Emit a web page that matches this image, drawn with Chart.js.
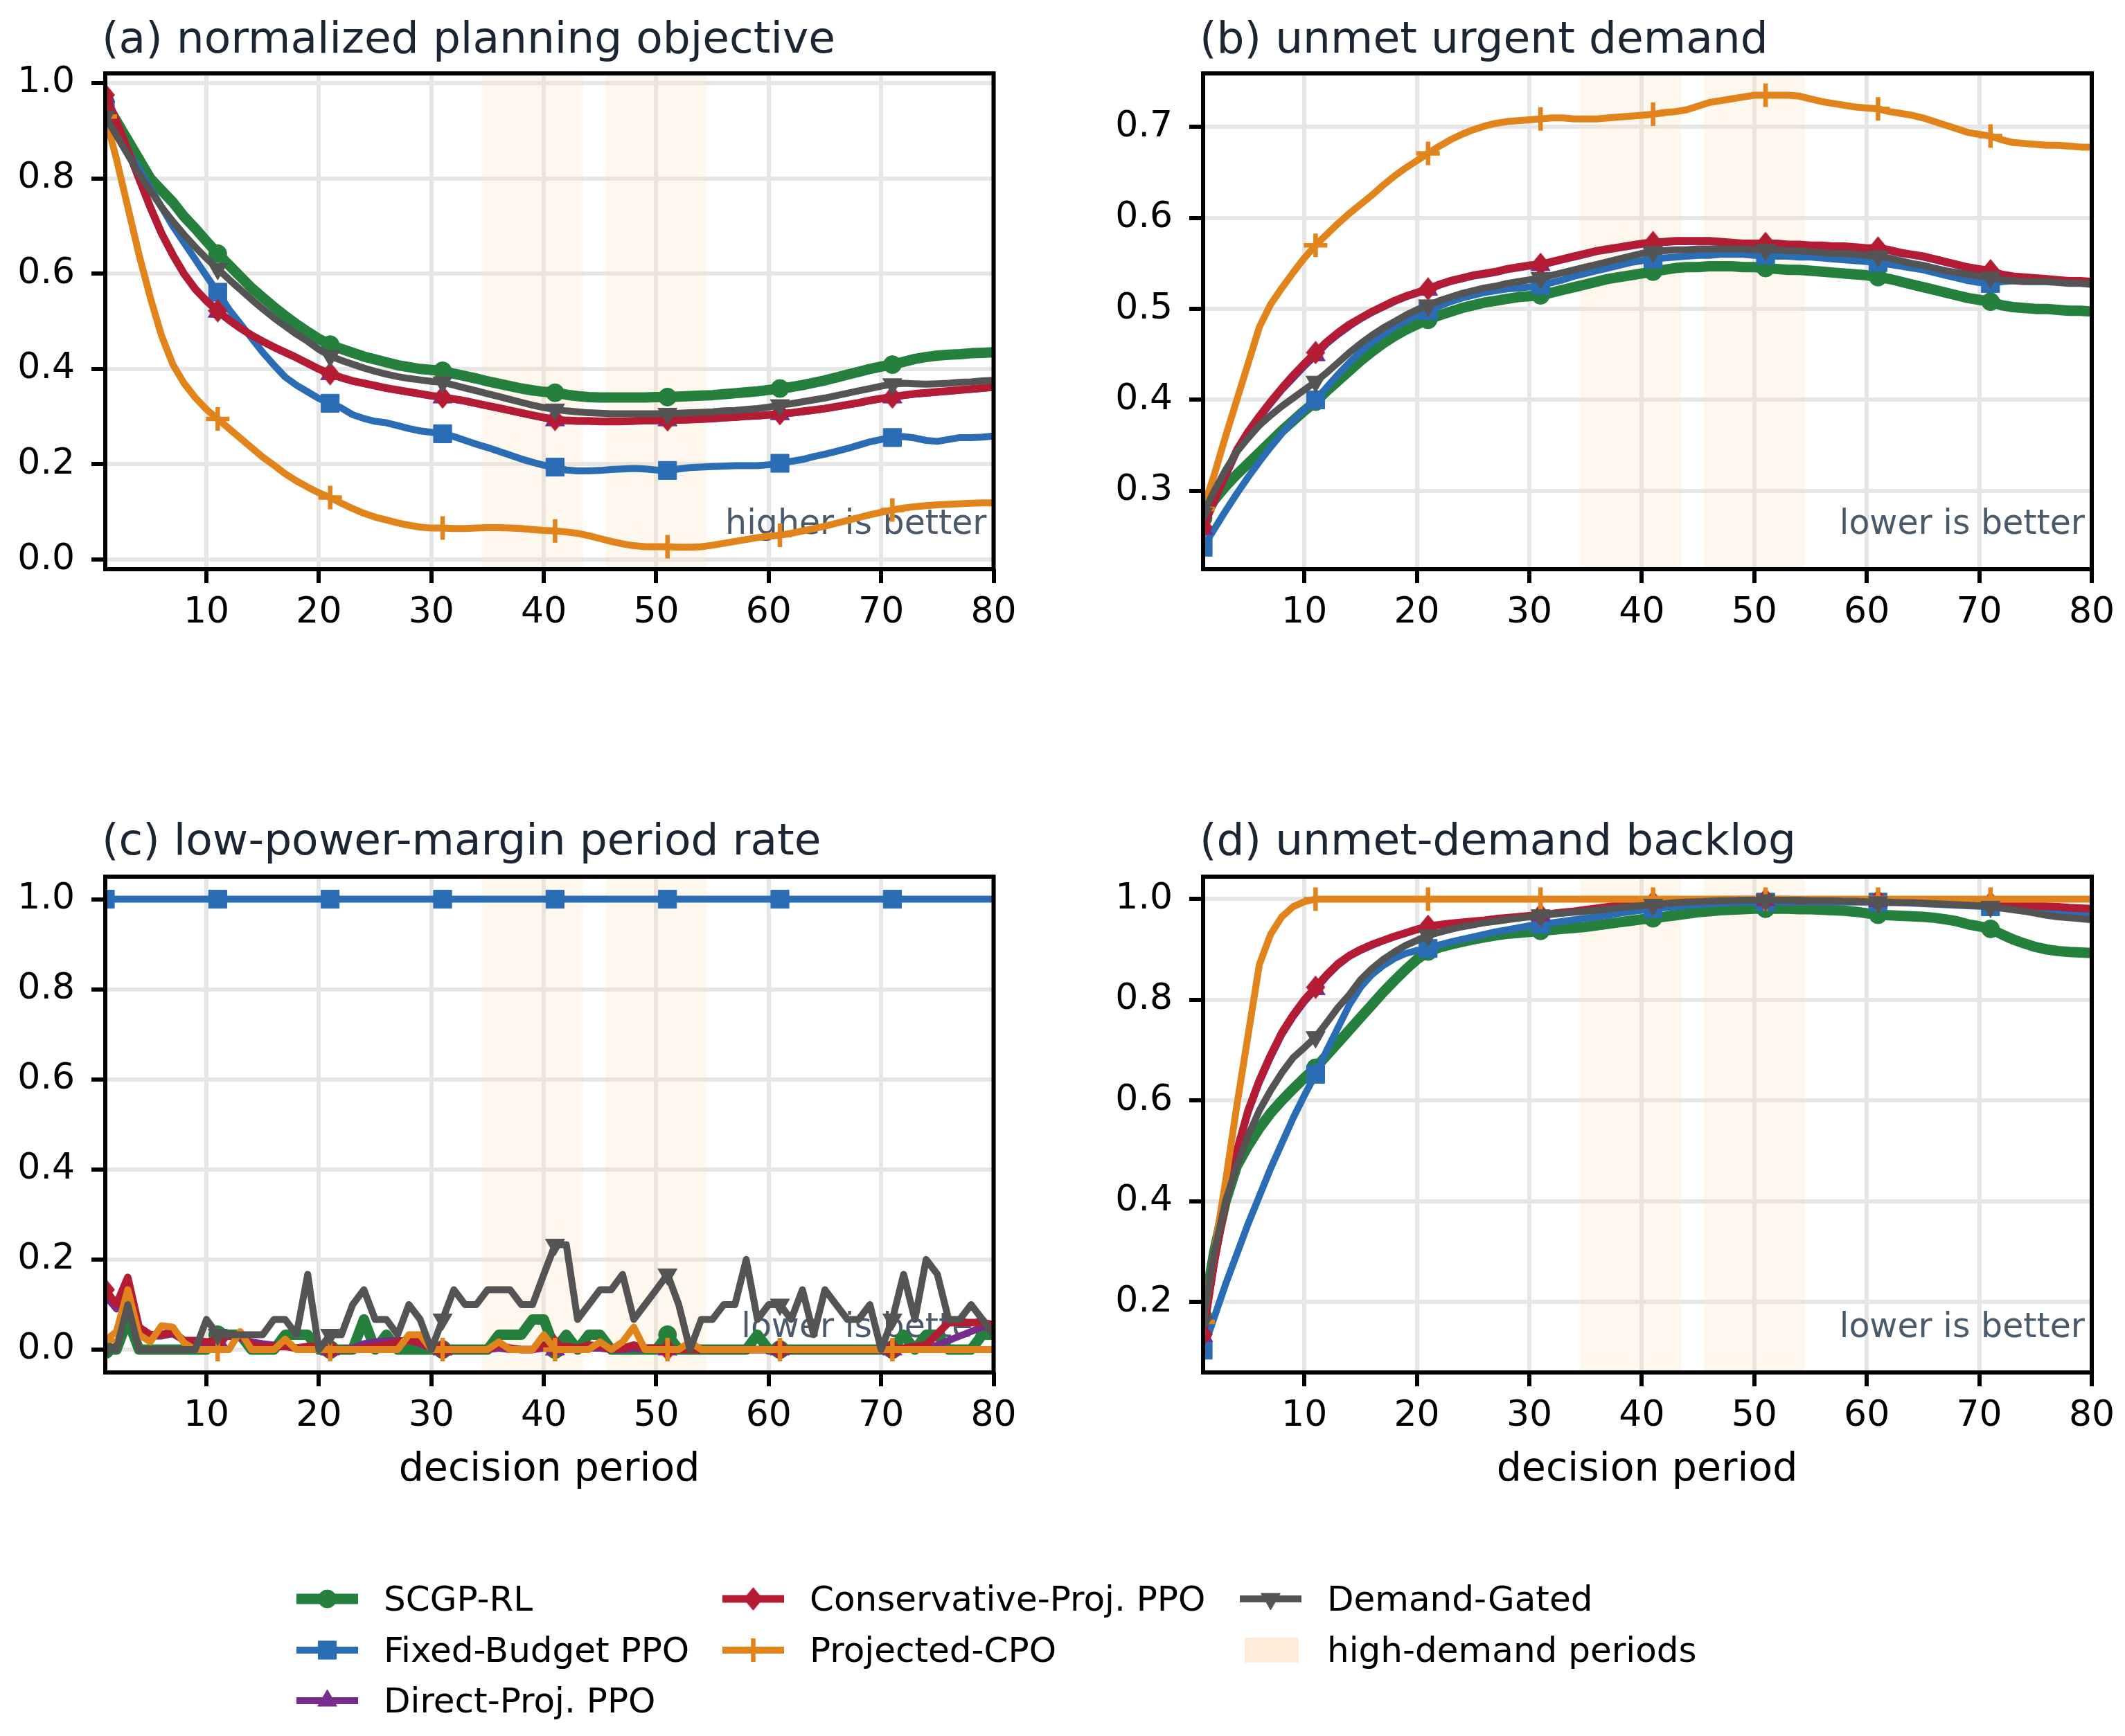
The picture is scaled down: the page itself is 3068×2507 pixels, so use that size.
<!DOCTYPE html>
<html>
<head>
<meta charset="utf-8">
<script src="https://cdn.jsdelivr.net/npm/chart.js@4.4.1/dist/chart.umd.min.js"></script>
<style>
  body { margin: 0; background: #fff; }
  #fig { position: relative; width: 3068px; height: 2507px; font-family: "DejaVu Sans"; overflow: hidden; }
  #fig canvas { position: absolute; }
  .ttl { position: absolute; font-size: 63px; line-height: 63px; color: #1c2533; white-space: nowrap; }
  .xlab { position: absolute; font-size: 57px; line-height: 57px; color: #000; white-space: nowrap; transform: translateX(-50%); }
  .leg { position: absolute; font-size: 50px; line-height: 60px; height: 60px; color: #000; white-space: nowrap; }
  .patch { position: absolute; background: #fcecd9; }
</style>
</head>
<body>
<div id="fig">
  <canvas id="pa" width="1530" height="1000" style="left:0px;top:0px;width:1530px;height:1000px"></canvas>
  <canvas id="pb" width="1528" height="1000" style="left:1540px;top:0px;width:1528px;height:1000px"></canvas>
  <canvas id="pc" width="1530" height="1000" style="left:0px;top:1160px;width:1530px;height:1000px"></canvas>
  <canvas id="pd" width="1528" height="1000" style="left:1540px;top:1160px;width:1528px;height:1000px"></canvas>
  <div class="ttl" style="left:147px;top:23px">(a) normalized planning objective</div>
  <div class="ttl" style="left:1732px;top:23px">(b) unmet urgent demand</div>
  <div class="ttl" style="left:147px;top:1181px">(c) low-power-margin period rate</div>
  <div class="ttl" style="left:1732px;top:1181px">(d) unmet-demand backlog</div>
  <div class="xlab" style="left:793px;top:2090px">decision period</div>
  <div class="xlab" style="left:2378px;top:2090px">decision period</div>
  <div id="legend"></div>
</div>
<script>
// x positions (decision periods) and tick labels
const periods = [1,2,3,4,5,6,7,8,9,10,11,12,13,14,15,16,17,18,19,20,
  21,22,23,24,25,26,27,28,29,30,31,32,33,34,35,36,37,38,39,40,
  41,42,43,44,45,46,47,48,49,50,51,52,53,54,55,56,57,58,59,60,
  61,62,63,64,65,66,67,68,69,70,71,72,73,74,75,76,77,78,79,80];
const xTicks = [10,20,30,40,50,60,70,80];
const yTicksA = [0.0,0.2,0.4,0.6,0.8,1.0];
const yTicksB = [0.3,0.4,0.5,0.6,0.7];
const yTicksC = [0.0,0.2,0.4,0.6,0.8,1.0];
const yTicksD = [0.2,0.4,0.6,0.8,1.0];
const highDemandStart = [34.5, 45.5];
const highDemandEnd = [43.5, 54.5];

const names = ["SCGP-RL","Fixed-Budget PPO","Direct-Proj. PPO","Conservative-Proj. PPO","Projected-CPO","Demand-Gated"];

// (a) normalized planning objective
const aSCGP = [0.960,0.920,0.880,0.840,0.800,0.775,0.750,0.720,0.695,0.668,
  0.642,0.618,0.594,0.570,0.550,0.530,0.511,0.494,0.478,0.463,
  0.451,0.442,0.434,0.426,0.420,0.414,0.408,0.404,0.400,0.398,
  0.396,0.390,0.385,0.380,0.374,0.369,0.364,0.359,0.355,0.352,
  0.350,0.346,0.343,0.341,0.340,0.340,0.340,0.340,0.340,0.341,
  0.341,0.342,0.343,0.344,0.345,0.347,0.349,0.351,0.353,0.356,
  0.359,0.362,0.366,0.371,0.376,0.382,0.388,0.394,0.400,0.405,
  0.409,0.415,0.421,0.425,0.428,0.430,0.431,0.433,0.434,0.435];
const aFixed = [0.940,0.900,0.860,0.820,0.780,0.740,0.700,0.665,0.630,0.595,
  0.561,0.525,0.495,0.465,0.435,0.408,0.383,0.366,0.352,0.338,
  0.328,0.318,0.304,0.296,0.290,0.287,0.281,0.275,0.270,0.267,
  0.264,0.258,0.250,0.242,0.235,0.227,0.219,0.211,0.204,0.198,
  0.194,0.188,0.186,0.186,0.187,0.189,0.190,0.191,0.190,0.188,
  0.187,0.190,0.193,0.194,0.195,0.196,0.197,0.197,0.197,0.199,
  0.202,0.206,0.210,0.216,0.221,0.227,0.233,0.240,0.247,0.252,
  0.256,0.258,0.255,0.250,0.248,0.252,0.256,0.256,0.257,0.259];
const aDirect = [0.972,0.918,0.858,0.798,0.738,0.684,0.639,0.599,0.567,0.542,
  0.520,0.502,0.485,0.470,0.457,0.445,0.434,0.423,0.411,0.399,
  0.389,0.381,0.374,0.369,0.364,0.359,0.355,0.351,0.347,0.343,
  0.340,0.336,0.332,0.327,0.322,0.317,0.312,0.307,0.302,0.297,
  0.292,0.291,0.290,0.290,0.289,0.289,0.289,0.290,0.291,0.291,
  0.292,0.292,0.293,0.294,0.295,0.297,0.298,0.300,0.301,0.303,
  0.305,0.307,0.310,0.313,0.316,0.320,0.324,0.328,0.333,0.337,
  0.340,0.344,0.347,0.349,0.351,0.353,0.355,0.357,0.359,0.361];
const aCons = [0.975,0.920,0.860,0.800,0.740,0.685,0.640,0.600,0.568,0.543,
  0.522,0.503,0.486,0.471,0.458,0.446,0.435,0.424,0.412,0.400,
  0.390,0.382,0.375,0.370,0.365,0.360,0.356,0.352,0.348,0.344,
  0.341,0.337,0.333,0.328,0.323,0.318,0.313,0.308,0.303,0.298,
  0.294,0.292,0.291,0.291,0.290,0.290,0.290,0.291,0.292,0.292,
  0.293,0.293,0.294,0.295,0.296,0.298,0.299,0.301,0.302,0.304,
  0.306,0.308,0.311,0.314,0.317,0.321,0.325,0.329,0.334,0.338,
  0.341,0.345,0.348,0.350,0.352,0.354,0.356,0.358,0.360,0.362];
const aProj = [0.930,0.840,0.740,0.640,0.550,0.470,0.410,0.370,0.340,0.315,
  0.295,0.275,0.255,0.235,0.215,0.198,0.180,0.165,0.152,0.140,
  0.130,0.118,0.107,0.097,0.089,0.083,0.077,0.072,0.068,0.066,
  0.066,0.065,0.065,0.066,0.067,0.067,0.066,0.065,0.063,0.061,
  0.060,0.058,0.055,0.050,0.044,0.038,0.033,0.029,0.027,0.027,
  0.027,0.026,0.026,0.027,0.030,0.034,0.038,0.042,0.046,0.049,
  0.051,0.055,0.060,0.065,0.070,0.076,0.082,0.088,0.094,0.099,
  0.104,0.108,0.111,0.113,0.115,0.116,0.117,0.118,0.119,0.119];
const aGated = [0.930,0.890,0.850,0.810,0.775,0.740,0.710,0.682,0.656,0.632,
  0.610,0.588,0.567,0.546,0.526,0.507,0.490,0.473,0.458,0.441,
  0.427,0.418,0.410,0.402,0.395,0.389,0.384,0.380,0.377,0.374,
  0.372,0.366,0.360,0.354,0.348,0.342,0.336,0.330,0.324,0.319,
  0.315,0.312,0.310,0.308,0.307,0.306,0.306,0.306,0.306,0.306,
  0.306,0.307,0.308,0.309,0.310,0.312,0.313,0.315,0.317,0.320,
  0.324,0.327,0.331,0.335,0.339,0.344,0.349,0.354,0.359,0.364,
  0.368,0.370,0.369,0.368,0.369,0.370,0.372,0.373,0.375,0.376];

// (b) unmet urgent demand
const bSCGP = [0.270,0.290,0.305,0.318,0.330,0.342,0.354,0.366,0.377,0.388,
  0.398,0.410,0.421,0.432,0.443,0.453,0.462,0.470,0.477,0.483,
  0.488,0.493,0.497,0.501,0.504,0.507,0.509,0.511,0.513,0.514,
  0.515,0.518,0.521,0.524,0.527,0.530,0.533,0.535,0.537,0.539,
  0.541,0.543,0.545,0.546,0.546,0.547,0.547,0.547,0.546,0.546,
  0.545,0.544,0.543,0.543,0.542,0.541,0.540,0.539,0.538,0.537,
  0.535,0.533,0.530,0.527,0.524,0.521,0.518,0.515,0.512,0.510,
  0.508,0.504,0.502,0.501,0.500,0.500,0.499,0.498,0.498,0.497];
const bFixed = [0.238,0.258,0.278,0.297,0.315,0.332,0.348,0.363,0.377,0.389,
  0.400,0.414,0.428,0.441,0.453,0.463,0.472,0.480,0.487,0.493,
  0.498,0.503,0.508,0.512,0.515,0.518,0.520,0.522,0.523,0.524,
  0.526,0.529,0.532,0.536,0.539,0.542,0.545,0.548,0.551,0.553,
  0.555,0.556,0.557,0.558,0.559,0.559,0.560,0.560,0.560,0.559,
  0.559,0.558,0.558,0.557,0.557,0.556,0.555,0.554,0.553,0.552,
  0.551,0.549,0.547,0.545,0.543,0.540,0.537,0.534,0.531,0.529,
  0.528,0.530,0.531,0.531,0.531,0.531,0.530,0.530,0.529,0.528];
const bDirect = [0.258,0.288,0.316,0.343,0.363,0.380,0.396,0.411,0.424,0.437,
  0.449,0.462,0.472,0.481,0.489,0.496,0.502,0.508,0.513,0.517,
  0.521,0.526,0.530,0.533,0.536,0.538,0.540,0.543,0.545,0.547,
  0.548,0.551,0.554,0.557,0.560,0.563,0.565,0.567,0.569,0.571,
  0.572,0.573,0.574,0.574,0.574,0.574,0.573,0.572,0.571,0.571,
  0.571,0.571,0.570,0.570,0.569,0.569,0.568,0.568,0.567,0.566,
  0.566,0.564,0.561,0.559,0.557,0.554,0.551,0.548,0.545,0.543,
  0.541,0.537,0.535,0.534,0.533,0.532,0.531,0.530,0.530,0.529];
const bCons = [0.260,0.290,0.318,0.345,0.365,0.382,0.398,0.413,0.427,0.440,
  0.452,0.464,0.474,0.483,0.490,0.497,0.503,0.509,0.514,0.518,
  0.522,0.527,0.531,0.534,0.537,0.539,0.541,0.544,0.546,0.548,
  0.549,0.552,0.555,0.558,0.561,0.564,0.566,0.568,0.570,0.572,
  0.573,0.574,0.575,0.575,0.575,0.575,0.574,0.573,0.572,0.572,
  0.572,0.572,0.571,0.571,0.570,0.570,0.569,0.569,0.568,0.567,
  0.567,0.565,0.562,0.560,0.558,0.555,0.552,0.549,0.546,0.544,
  0.542,0.538,0.536,0.535,0.534,0.533,0.532,0.531,0.531,0.530];
const bProj = [0.280,0.318,0.360,0.400,0.440,0.480,0.505,0.523,0.540,0.556,
  0.570,0.582,0.594,0.605,0.615,0.625,0.636,0.646,0.655,0.663,
  0.671,0.679,0.686,0.692,0.697,0.701,0.704,0.706,0.707,0.708,
  0.709,0.710,0.710,0.709,0.709,0.709,0.710,0.711,0.712,0.713,
  0.714,0.716,0.717,0.719,0.723,0.727,0.729,0.731,0.733,0.735,
  0.735,0.735,0.735,0.734,0.731,0.728,0.726,0.724,0.722,0.721,
  0.720,0.717,0.715,0.713,0.710,0.706,0.702,0.698,0.694,0.692,
  0.690,0.686,0.683,0.682,0.681,0.680,0.680,0.679,0.678,0.678];
const bGated = [0.275,0.300,0.323,0.343,0.358,0.372,0.383,0.393,0.402,0.411,
  0.420,0.430,0.441,0.452,0.462,0.471,0.479,0.486,0.493,0.499,
  0.504,0.509,0.513,0.517,0.520,0.523,0.525,0.528,0.530,0.532,
  0.534,0.537,0.540,0.543,0.546,0.549,0.552,0.555,0.558,0.561,
  0.563,0.564,0.565,0.565,0.566,0.566,0.566,0.566,0.566,0.565,
  0.565,0.565,0.564,0.564,0.563,0.562,0.561,0.561,0.560,0.559,
  0.558,0.556,0.553,0.550,0.548,0.545,0.542,0.540,0.538,0.536,
  0.535,0.532,0.531,0.530,0.530,0.530,0.529,0.528,0.528,0.527];

// (c) low-power-margin period rate
const cSCGP = [0.000,0.000,0.067,0.000,0.000,0.000,0.000,0.000,0.000,0.000,
  0.033,0.033,0.033,0.000,0.000,0.000,0.033,0.033,0.033,0.000,
  0.000,0.000,0.000,0.067,0.000,0.033,0.000,0.000,0.000,0.000,
  0.000,0.000,0.000,0.000,0.000,0.033,0.033,0.033,0.067,0.067,
  0.000,0.033,0.000,0.033,0.033,0.000,0.000,0.000,0.000,0.000,
  0.033,0.000,0.000,0.000,0.000,0.000,0.000,0.000,0.033,0.000,
  0.000,0.000,0.000,0.000,0.000,0.000,0.000,0.000,0.000,0.000,
  0.000,0.033,0.000,0.033,0.033,0.000,0.000,0.000,0.033,0.033];
const cFixed = [1,1,1,1,1,1,1,1,1,1, 1,1,1,1,1,1,1,1,1,1,
  1,1,1,1,1,1,1,1,1,1, 1,1,1,1,1,1,1,1,1,1,
  1,1,1,1,1,1,1,1,1,1, 1,1,1,1,1,1,1,1,1,1,
  1,1,1,1,1,1,1,1,1,1, 1,1,1,1,1,1,1,1,1,1];
const cDirect = [0.120,0.090,0.150,0.040,0.030,0.030,0.035,0.020,0.015,0.013,
  0.020,0.030,0.025,0.017,0.013,0.010,0.007,0.003,0.003,0.003,
  0.000,0.000,0.003,0.013,0.017,0.020,0.020,0.020,0.013,0.003,
  0.000,0.000,0.000,0.000,0.000,0.003,0.000,0.000,0.000,0.003,
  0.000,0.003,0.000,0.003,0.003,0.000,0.000,0.003,0.000,0.000,
  0.000,0.000,0.000,0.000,0.000,0.000,0.000,0.000,0.000,0.000,
  0.000,0.000,0.000,0.000,0.000,0.000,0.000,0.000,0.000,0.000,
  0.000,0.000,0.000,0.003,0.010,0.020,0.030,0.040,0.050,0.050];
const cCons = [0.133,0.100,0.160,0.050,0.033,0.033,0.040,0.020,0.020,0.017,
  0.020,0.033,0.033,0.010,0.007,0.007,0.007,0.003,0.007,0.007,
  0.000,0.000,0.000,0.003,0.007,0.010,0.017,0.020,0.017,0.003,
  0.000,0.000,0.000,0.000,0.000,0.010,0.003,0.000,0.000,0.010,
  0.007,0.007,0.003,0.010,0.007,0.003,0.003,0.010,0.003,0.003,
  0.000,0.000,0.000,0.000,0.000,0.000,0.000,0.000,0.000,0.000,
  0.000,0.000,0.000,0.000,0.000,0.000,0.000,0.000,0.000,0.000,
  0.000,0.003,0.007,0.010,0.035,0.060,0.060,0.060,0.060,0.055];
const cProj = [0.020,0.040,0.133,0.033,0.017,0.053,0.050,0.015,0.000,0.000,
  0.000,0.000,0.040,0.000,0.000,0.000,0.023,0.000,0.000,0.000,
  0.000,0.000,0.000,0.000,0.000,0.000,0.000,0.033,0.033,0.000,
  0.000,0.000,0.000,0.000,0.000,0.017,0.000,0.000,0.000,0.033,
  0.000,0.000,0.000,0.000,0.017,0.000,0.017,0.050,0.000,0.000,
  0.000,0.000,0.017,0.000,0.000,0.000,0.000,0.000,0.000,0.000,
  0.000,0.000,0.000,0.000,0.000,0.000,0.000,0.000,0.000,0.000,
  0.000,0.000,0.000,0.000,0.000,0.000,0.000,0.000,0.000,0.000];
const cGated = [0.000,0.000,0.100,0.000,0.000,0.000,0.000,0.000,0.000,0.067,
  0.033,0.033,0.033,0.033,0.033,0.067,0.067,0.033,0.167,0.000,
  0.033,0.033,0.100,0.133,0.067,0.067,0.033,0.100,0.067,0.000,
  0.067,0.133,0.100,0.100,0.133,0.133,0.133,0.100,0.100,0.167,
  0.233,0.233,0.067,0.100,0.133,0.133,0.167,0.067,0.100,0.133,
  0.167,0.100,0.000,0.067,0.067,0.100,0.100,0.200,0.067,0.100,
  0.100,0.067,0.133,0.033,0.133,0.100,0.067,0.067,0.100,0.000,
  0.067,0.167,0.067,0.200,0.167,0.067,0.067,0.100,0.067,0.033];

// (d) unmet-demand backlog
const dSCGP = [0.170,0.300,0.400,0.470,0.510,0.545,0.575,0.600,0.623,0.645,
  0.665,0.690,0.715,0.740,0.765,0.790,0.815,0.838,0.860,0.880,
  0.896,0.904,0.910,0.915,0.920,0.924,0.928,0.931,0.933,0.935,
  0.937,0.939,0.941,0.943,0.945,0.948,0.951,0.954,0.957,0.960,
  0.962,0.965,0.968,0.971,0.974,0.976,0.978,0.979,0.980,0.981,
  0.981,0.981,0.981,0.980,0.980,0.979,0.978,0.977,0.975,0.972,
  0.969,0.968,0.967,0.966,0.965,0.963,0.960,0.956,0.950,0.946,
  0.941,0.930,0.920,0.912,0.905,0.900,0.897,0.895,0.894,0.893];
const dFixed = [0.104,0.170,0.235,0.295,0.355,0.410,0.465,0.515,0.565,0.610,
  0.652,0.700,0.745,0.790,0.825,0.850,0.868,0.882,0.892,0.898,
  0.902,0.909,0.915,0.920,0.925,0.930,0.935,0.939,0.943,0.947,
  0.950,0.953,0.956,0.959,0.962,0.965,0.968,0.972,0.975,0.978,
  0.981,0.983,0.985,0.987,0.989,0.991,0.992,0.993,0.994,0.994,
  0.994,0.994,0.994,0.994,0.994,0.994,0.994,0.994,0.994,0.994,
  0.994,0.993,0.993,0.992,0.991,0.990,0.989,0.988,0.987,0.986,
  0.985,0.983,0.981,0.979,0.977,0.975,0.973,0.971,0.970,0.969];
const dDirect = [0.132,0.276,0.396,0.496,0.576,0.636,0.686,0.731,0.766,0.796,
  0.821,0.847,0.869,0.886,0.898,0.908,0.917,0.925,0.932,0.939,
  0.945,0.948,0.951,0.953,0.955,0.957,0.960,0.962,0.964,0.966,
  0.968,0.970,0.973,0.975,0.978,0.981,0.984,0.987,0.989,0.991,
  0.993,0.994,0.995,0.996,0.997,0.997,0.998,0.998,0.998,0.998,
  0.998,0.998,0.998,0.997,0.997,0.997,0.997,0.997,0.996,0.996,
  0.996,0.995,0.995,0.995,0.994,0.994,0.993,0.993,0.992,0.992,
  0.992,0.990,0.989,0.988,0.986,0.985,0.984,0.982,0.981,0.980];
const dCons = [0.135,0.280,0.400,0.500,0.580,0.640,0.690,0.735,0.770,0.800,
  0.825,0.850,0.872,0.888,0.900,0.910,0.918,0.926,0.933,0.940,
  0.946,0.949,0.952,0.954,0.956,0.958,0.961,0.963,0.965,0.967,
  0.969,0.971,0.974,0.976,0.979,0.982,0.985,0.988,0.990,0.992,
  0.994,0.995,0.996,0.997,0.998,0.998,0.999,0.999,0.999,0.999,
  0.999,0.999,0.999,0.998,0.998,0.998,0.998,0.998,0.997,0.997,
  0.997,0.996,0.996,0.996,0.995,0.995,0.994,0.994,0.993,0.993,
  0.993,0.991,0.990,0.989,0.987,0.986,0.985,0.983,0.982,0.981];
const dProj = [0.160,0.300,0.440,0.590,0.730,0.870,0.930,0.965,0.985,0.995,
  1.000,1.000,1.000,1.000,1.000,1.000,1.000,1.000,1.000,1.000,
  1.000,1.000,1.000,1.000,1.000,1.000,1.000,1.000,1.000,1.000,
  1.000,1.000,1.000,1.000,1.000,1.000,1.000,1.000,1.000,1.000,
  1.000,1.000,1.000,1.000,1.000,1.000,1.000,1.000,1.000,1.000,
  1.000,1.000,1.000,1.000,1.000,1.000,1.000,1.000,1.000,1.000,
  1.000,1.000,1.000,1.000,1.000,1.000,1.000,1.000,1.000,1.000,
  1.000,1.000,1.000,1.000,1.000,1.000,1.000,1.000,1.000,1.000];
const dGated = [0.160,0.300,0.400,0.470,0.530,0.580,0.620,0.655,0.685,0.705,
  0.726,0.755,0.785,0.810,0.840,0.862,0.880,0.895,0.908,0.918,
  0.928,0.934,0.940,0.945,0.949,0.953,0.956,0.959,0.962,0.965,
  0.968,0.970,0.972,0.974,0.976,0.978,0.980,0.983,0.985,0.987,
  0.989,0.991,0.993,0.994,0.995,0.996,0.997,0.997,0.998,0.998,
  0.998,0.998,0.998,0.998,0.997,0.997,0.997,0.996,0.996,0.995,
  0.994,0.994,0.993,0.993,0.992,0.991,0.990,0.989,0.988,0.987,
  0.985,0.982,0.979,0.976,0.972,0.968,0.965,0.963,0.961,0.959];

// styling
const colors = ["#24803c", "#2b6db4", "#782d8c", "#b41c33", "#e2841c", "#545454"];
const widths = [15, 10, 10, 11, 10, 10];
const rotations = [0, 0, 0, 0, 0, 180];
const radii = [13, 18.5, 16, 16, 17, 16];
const shadeColor = "rgba(250, 222, 185, 0.24)";
const noteColor = "#4a5a6b";
const font = "DejaVu Sans";

// thin diamond marker (taller than wide)
const thinDiamond = document.createElement("canvas");
thinDiamond.width = 28; thinDiamond.height = 34;
(function () {
  const g = thinDiamond.getContext("2d");
  g.fillStyle = colors[3];
  g.beginPath(); g.moveTo(14, 0); g.lineTo(28, 17); g.lineTo(14, 34); g.lineTo(0, 17); g.closePath(); g.fill();
})();
const markers = ["circle", "rect", "triangle", thinDiamond, "cross", "triangle"];
const markerBorder = [1, 1, 1, 1, 6.5, 1];

Chart.defaults.font.family = font;

const panelFrame = {
  id: "panelFrame",
  beforeDatasetsDraw(chart) {
    const { ctx, chartArea: a, scales: { x } } = chart;
    ctx.save();
    ctx.fillStyle = shadeColor;
    highDemandStart.forEach((s, i) => {
      const x0 = x.getPixelForValue(s), x1 = x.getPixelForValue(highDemandEnd[i]);
      ctx.fillRect(x0, a.top, x1 - x0, a.bottom - a.top);
    });
    ctx.font = "49px '" + font + "'";
    ctx.fillStyle = noteColor;
    ctx.textAlign = "right";
    ctx.textBaseline = "alphabetic";
    ctx.fillText(chart.options.note, a.right - 10, a.bottom - 51);
    ctx.restore();
  },
  afterDatasetsDraw(chart) {
    const { ctx, chartArea: a } = chart;
    ctx.save();
    ctx.strokeStyle = "#000";
    ctx.lineWidth = 6;
    ctx.strokeRect(a.left, a.top, a.right - a.left, a.bottom - a.top);
    ctx.restore();
  }
};

function makePanel(id, series, yMin, yMax, yTicks, note, yWidth, rightPad) {
  new Chart(document.getElementById(id), {
    type: "line",
    data: {
      datasets: series.map((vals, i) => ({
        label: names[i],
        data: vals.map((v, k) => ({ x: periods[k], y: v })),
        borderColor: colors[i],
        backgroundColor: colors[i],
        borderWidth: widths[i],
        borderJoinStyle: "round",
        pointStyle: markers[i],
        rotation: rotations[i],
        pointRadius: (c) => c.dataIndex % 10 === 0 ? radii[i] : 0,
        pointHoverRadius: (c) => c.dataIndex % 10 === 0 ? radii[i] : 0,
        pointBorderWidth: markerBorder[i],
        pointBorderColor: colors[i],
        pointBackgroundColor: colors[i],
        tension: 0,
        fill: false,
        clip: 0,
        order: 5 - i
      }))
    },
    options: {
      responsive: false,
      animation: false,
      devicePixelRatio: 1,
      events: [],
      note: note,
      layout: { padding: { left: 0, top: 106, right: rightPad, bottom: 0 } },
      plugins: { legend: { display: false }, tooltip: { enabled: false } },
      scales: {
        x: {
          type: "linear", min: 1, max: 80,
          afterBuildTicks: (s) => { s.ticks = xTicks.map((v) => ({ value: v })); },
          afterFit: (s) => { s.height = 178; },
          border: { display: false },
          grid: { color: "#e6e6e6", lineWidth: 6, drawTicks: true, tickLength: 20, tickWidth: 6, tickColor: "#000" },
          ticks: { color: "#000", font: { size: 52 }, padding: 12, maxRotation: 0, autoSkip: false, callback: (v) => String(v) }
        },
        y: {
          type: "linear", min: yMin, max: yMax,
          afterBuildTicks: (s) => { s.ticks = yTicks.map((v) => ({ value: v })); },
          afterFit: (s) => { s.width = yWidth; },
          border: { display: false },
          grid: { color: "#e6e6e6", lineWidth: 6, drawTicks: true, tickLength: 20, tickWidth: 6, tickColor: "#000" },
          ticks: { color: "#000", font: { size: 52 }, padding: 24, autoSkip: false, callback: (v) => v.toFixed(1) }
        }
      }
    },
    plugins: [panelFrame]
  });
}

makePanel("pa", [aSCGP, aFixed, aDirect, aCons, aProj, aGated], -0.0203, 1.0203, yTicksA, "higher is better", 152, 95.5);
makePanel("pb", [bSCGP, bFixed, bDirect, bCons, bProj, bGated], 0.2138, 0.759, yTicksB, "lower is better", 197, 48);
makePanel("pc", [cSCGP, cFixed, cDirect, cCons, cProj, cGated], -0.0508, 1.05, yTicksC, "lower is better", 152, 95.5);
makePanel("pd", [dSCGP, dFixed, dDirect, dCons, dProj, dGated], 0.0597, 1.0447, yTicksD, "lower is better", 197, 48);

// legend: three columns, filled column by column
const legCols = [428, 1043, 1790];
const legRows = [2309, 2383, 2456];
const legSlots = [[0, 0], [0, 1], [0, 2], [1, 0], [1, 1], [2, 0]];
const legend = document.getElementById("legend");
const fig = document.getElementById("fig");

names.forEach((name, i) => {
  const [c, r] = legSlots[i];
  const cv = document.createElement("canvas");
  cv.width = 119; cv.height = 60;
  cv.style.left = (legCols[c] - 15) + "px";
  cv.style.top = (legRows[r] - 30) + "px";
  cv.style.width = "119px"; cv.style.height = "60px";
  fig.appendChild(cv);
  const ctx = cv.getContext("2d");
  ctx.strokeStyle = colors[i];
  ctx.fillStyle = colors[i];
  ctx.lineWidth = widths[i];
  ctx.beginPath(); ctx.moveTo(15, 30); ctx.lineTo(104, 30); ctx.stroke();
  ctx.lineWidth = markerBorder[i];
  Chart.helpers.drawPoint(ctx, { pointStyle: markers[i], rotation: rotations[i], radius: radii[i], borderWidth: markerBorder[i] }, 59.5, 30);
  const t = document.createElement("div");
  t.className = "leg";
  t.textContent = name;
  t.style.left = (legCols[c] + 126) + "px";
  t.style.top = (legRows[r] - 30) + "px";
  legend.appendChild(t);
});

const patch = document.createElement("div");
patch.className = "patch";
patch.style.left = "1797px"; patch.style.top = (legRows[1] - 18) + "px";
patch.style.width = "78px"; patch.style.height = "36px";
legend.appendChild(patch);
const pt = document.createElement("div");
pt.className = "leg";
pt.textContent = "high-demand periods";
pt.style.left = (legCols[2] + 126) + "px";
pt.style.top = (legRows[1] - 30) + "px";
legend.appendChild(pt);
</script>
</body>
</html>
